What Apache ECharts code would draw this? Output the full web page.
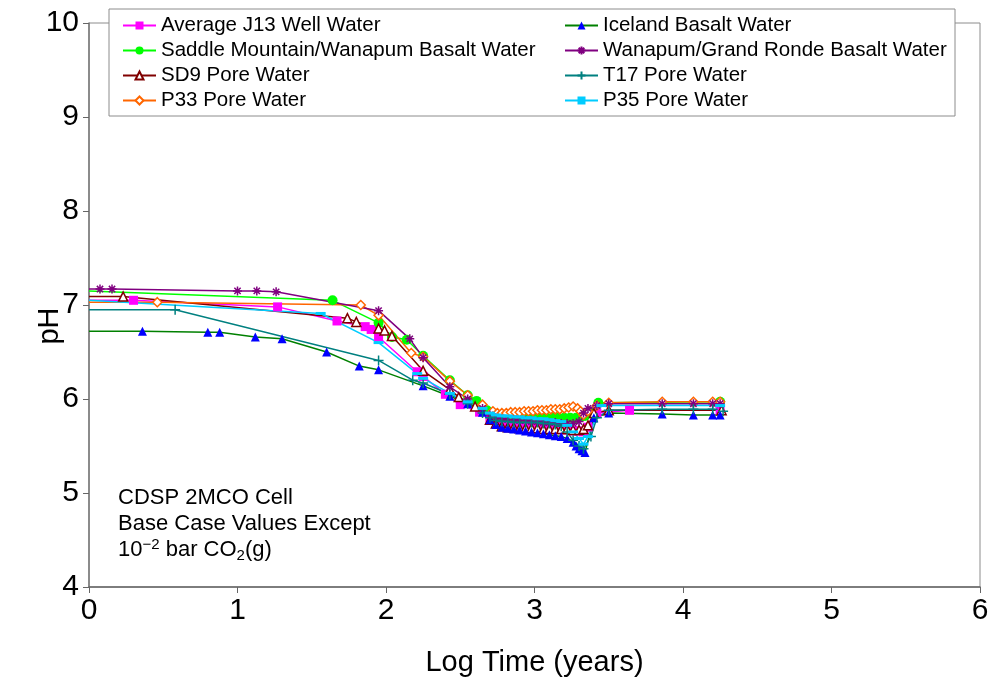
<!DOCTYPE html>
<html><head><meta charset="utf-8">
<script src="https://cdn.jsdelivr.net/npm/echarts@6/dist/echarts.min.js"></script>
<style>html,body{margin:0;padding:0;background:#fff}#c{width:992px;height:679px}</style>
</head><body><div id="c"></div>
<script>
// ---- data (log time in years, pH) ----
const names = ["Average J13 Well Water","Saddle Mountain/Wanapum Basalt Water","SD9 Pore Water","P33 Pore Water",
  "Iceland Basalt Water","Wanapum/Grand Ronde Basalt Water","T17 Pore Water","P35 Pore Water"];
const xTicks = [0,1,2,3,4,5,6];
const yTicks = [4,5,6,7,8,9,10];

const xJ13 = [0,0.30,1.27,1.67,1.86,1.90,1.95,2.21,2.25,2.40,2.50,2.63,2.70,2.74,2.78,2.82,2.86,2.90,2.94,2.98,3.02,3.06,3.10,3.14,3.18,3.22,3.26,3.30,3.33,3.36,3.42,3.64,4.25];
const yJ13 = [7.05,7.05,6.98,6.83,6.77,6.74,6.66,6.29,6.24,6.05,5.94,5.86,5.80,5.78,5.76,5.75,5.74,5.73,5.72,5.72,5.71,5.70,5.70,5.69,5.68,5.67,5.66,5.66,5.65,5.70,5.85,5.88,5.88];

const xSM = [0,1.64,1.95,2.04,2.14,2.25,2.43,2.55,2.61,2.68,2.72,2.76,2.80,2.84,2.88,2.92,2.96,3.00,3.04,3.08,3.12,3.16,3.20,3.24,3.28,3.31,3.34,3.38,3.43,4.25];
const ySM = [7.15,7.05,6.81,6.66,6.63,6.46,6.20,6.04,5.98,5.88,5.84,5.82,5.81,5.81,5.80,5.80,5.80,5.80,5.80,5.80,5.80,5.80,5.80,5.80,5.80,5.81,5.82,5.85,5.96,5.97];

const xSD9 = [0,0.23,1.74,1.80,1.95,1.99,2.04,2.25,2.43,2.49,2.60,2.70,2.74,2.78,2.82,2.86,2.90,2.94,2.98,3.02,3.06,3.10,3.14,3.18,3.22,3.26,3.30,3.33,3.36,3.40,3.50,4.26];
const ySD9 = [7.09,7.09,6.86,6.82,6.75,6.73,6.67,6.30,6.10,6.02,5.92,5.78,5.74,5.71,5.70,5.70,5.69,5.69,5.69,5.69,5.68,5.68,5.68,5.68,5.68,5.67,5.67,5.68,5.72,5.85,5.88,5.88];

const xP33 = [0,0.46,1.83,1.95,2.17,2.25,2.43,2.55,2.65,2.72,2.75,2.78,2.81,2.84,2.87,2.90,2.93,2.96,2.99,3.02,3.05,3.08,3.11,3.14,3.17,3.20,3.23,3.26,3.29,3.31,3.33,3.36,3.42,3.50,3.86,4.07,4.20,4.25];
const yP33 = [7.03,7.03,7.00,6.89,6.49,6.45,6.19,6.04,5.94,5.87,5.85,5.85,5.85,5.86,5.86,5.86,5.87,5.87,5.87,5.88,5.88,5.88,5.89,5.89,5.89,5.90,5.91,5.92,5.90,5.87,5.83,5.87,5.93,5.96,5.97,5.97,5.97,5.97];

const xICE = [0,0.36,0.80,0.88,1.12,1.30,1.60,1.82,1.95,2.25,2.43,2.55,2.65,2.70,2.74,2.78,2.82,2.86,2.90,2.94,2.98,3.02,3.06,3.10,3.14,3.18,3.22,3.26,3.28,3.30,3.32,3.34,3.40,3.50,3.86,4.07,4.20,4.25];
const yICE = [6.72,6.72,6.71,6.71,6.66,6.64,6.50,6.35,6.31,6.14,6.03,5.95,5.86,5.78,5.73,5.70,5.69,5.68,5.67,5.66,5.65,5.64,5.63,5.62,5.61,5.60,5.58,5.54,5.50,5.47,5.45,5.43,5.80,5.85,5.84,5.83,5.83,5.83];

const xWGR = [0,0.074,0.155,1.00,1.13,1.26,1.95,2.16,2.25,2.43,2.55,2.65,2.70,2.74,2.78,2.82,2.86,2.90,2.94,2.98,3.02,3.06,3.10,3.14,3.18,3.22,3.26,3.30,3.33,3.36,3.42,3.50,3.86,4.07,4.20,4.25];
const yWGR = [7.17,7.17,7.17,7.15,7.15,7.14,6.94,6.64,6.44,6.13,6.00,5.90,5.83,5.80,5.79,5.78,5.78,5.77,5.77,5.76,5.76,5.75,5.75,5.75,5.74,5.74,5.74,5.76,5.85,5.90,5.93,5.95,5.95,5.95,5.95,5.95];

const xT17 = [0,0.58,1.95,2.18,2.25,2.43,2.55,2.65,2.70,2.74,2.78,2.82,2.86,2.90,2.94,2.98,3.02,3.06,3.10,3.14,3.18,3.22,3.26,3.30,3.33,3.38,3.42,3.50,3.86,4.07,4.20,4.27];
const yT17 = [6.95,6.95,6.41,6.20,6.17,6.05,5.95,5.85,5.80,5.77,5.76,5.76,5.75,5.75,5.75,5.75,5.75,5.74,5.74,5.73,5.71,5.65,5.56,5.50,5.47,5.60,5.80,5.88,5.89,5.89,5.89,5.87];

const xP35 = [0,1.56,1.95,2.21,2.25,2.43,2.55,2.65,2.70,2.74,2.78,2.82,2.86,2.90,2.94,2.98,3.02,3.06,3.10,3.14,3.18,3.22,3.26,3.30,3.33,3.36,3.45,4.25];
const yP35 = [7.05,6.91,6.60,6.27,6.22,6.06,5.97,5.90,5.85,5.83,5.82,5.82,5.81,5.81,5.80,5.80,5.79,5.79,5.78,5.77,5.76,5.72,5.65,5.58,5.52,5.60,5.93,5.93];

// ---- build ----
const FONT = 'Liberation Sans, Arial, sans-serif';
function pts(xs, ys){ return xs.map((x,i)=> i===0 ? {value:[x,ys[i]], symbol:'none'} : [x, ys[i]]); }
const star = 'path://M0,5L10,5M5,0L5,10M1.5,1.5L8.5,8.5M8.5,1.5L1.5,8.5';
const plus = 'path://M0,5L10,5M5,0L5,10';
function mk(name, xs, ys, lineColor, symbol, size, item){
  return {name, type:'line', data:pts(xs,ys), showAllSymbol:true, symbol, symbolSize:size,
    lineStyle:{color:lineColor, width:1.5}, itemStyle:item, emphasis:{disabled:true}, animation:false};
}
const series = [
  mk(names[0], xJ13, yJ13, '#FF00FF', 'rect', 9, {color:'#FF00FF'}),
  mk(names[1], xSM, ySM, '#00FF00', 'circle', 10, {color:'#00FF00'}),
  mk(names[2], xSD9, ySD9, '#800000', 'triangle', 9, {color:'#ffffff', borderColor:'#800000', borderWidth:1.5}),
  mk(names[3], xP33, yP33, '#FF6600', 'diamond', 9, {color:'#ffffff', borderColor:'#FF6600', borderWidth:1.5}),
  mk(names[4], xICE, yICE, '#008000', 'triangle', 9, {color:'#0000FF'}),
  mk(names[5], xWGR, yWGR, '#800080', star, 9, {color:'#800080', borderColor:'#800080', borderWidth:1.5}),
  mk(names[6], xT17, yT17, '#008080', plus, 10, {color:'#008080', borderColor:'#008080', borderWidth:1.5}),
  mk(names[7], xP35, yP35, '#00CCFF', 'rect', [10,3], {color:'#00CCFF'})
];
const legendCommon = {orient:'vertical', top:10, itemWidth:33, itemHeight:10, itemGap:4,
  textStyle:{fontFamily:FONT, fontSize:20.5, color:'#000', lineHeight:19}, selectedMode:false, z:5};
const chart = echarts.init(document.getElementById('c'), null, {renderer:'canvas'});
chart.setOption({
  backgroundColor:'#fff',
  animation:false,
  grid:{left:89, right:12, top:23, bottom:92, show:true, borderColor:'#8c8c8c', borderWidth:1,
        backgroundColor:'#fff', containLabel:false, outerBoundsMode:'none'},
  xAxis:{type:'value', min:xTicks[0], max:xTicks[xTicks.length-1], interval:1,
    axisLine:{lineStyle:{color:'#666', width:1.5}}, axisTick:{length:6, lineStyle:{color:'#666'}},
    splitLine:{show:false},
    axisLabel:{fontFamily:FONT, fontSize:30, color:'#000', margin:9},
    name:'Log Time (years)', nameLocation:'middle', nameGap:61, nameMoveOverlap:false,
    nameTextStyle:{fontFamily:FONT, fontSize:29, color:'#000'}},
  yAxis:{type:'value', min:yTicks[0], max:yTicks[yTicks.length-1], interval:1,
    axisLine:{show:true, lineStyle:{color:'#777', width:1.5}}, axisTick:{show:true, length:6, lineStyle:{color:'#666'}},
    splitLine:{show:false},
    axisLabel:{fontFamily:FONT, fontSize:30, color:'#000', margin:10}},
  legend:[
    Object.assign({left:117, data:names.slice(0,4)}, legendCommon),
    Object.assign({left:559, data:names.slice(4,8)}, legendCommon)
  ],
  graphic:[
    {type:'rect', z:3, shape:{x:109, y:9, width:846, height:107}, style:{fill:'#fff', stroke:'#8c8c8c', lineWidth:1}},
    {type:'text', z:3, x:50, y:326, rotation:Math.PI/2,
      style:{text:'pH', x:0, y:0, align:'center', verticalAlign:'middle', fontFamily:FONT, fontSize:29, fill:'#000'}},
    {type:'text', z:3, left:118, top:485, style:{
      text:'CDSP 2MCO Cell\nBase Case Values Except\n10{sup|−2} bar CO{sub|2}(g)',
      fontFamily:FONT, fontSize:22, lineHeight:26, fill:'#000',
      rich:{sup:{fontFamily:FONT, fontSize:15, verticalAlign:'top', lineHeight:14, fill:'#000'},
            sub:{fontFamily:FONT, fontSize:15, verticalAlign:'bottom', lineHeight:12, fill:'#000'}}}}
  ],
  series
});
</script></body></html>
